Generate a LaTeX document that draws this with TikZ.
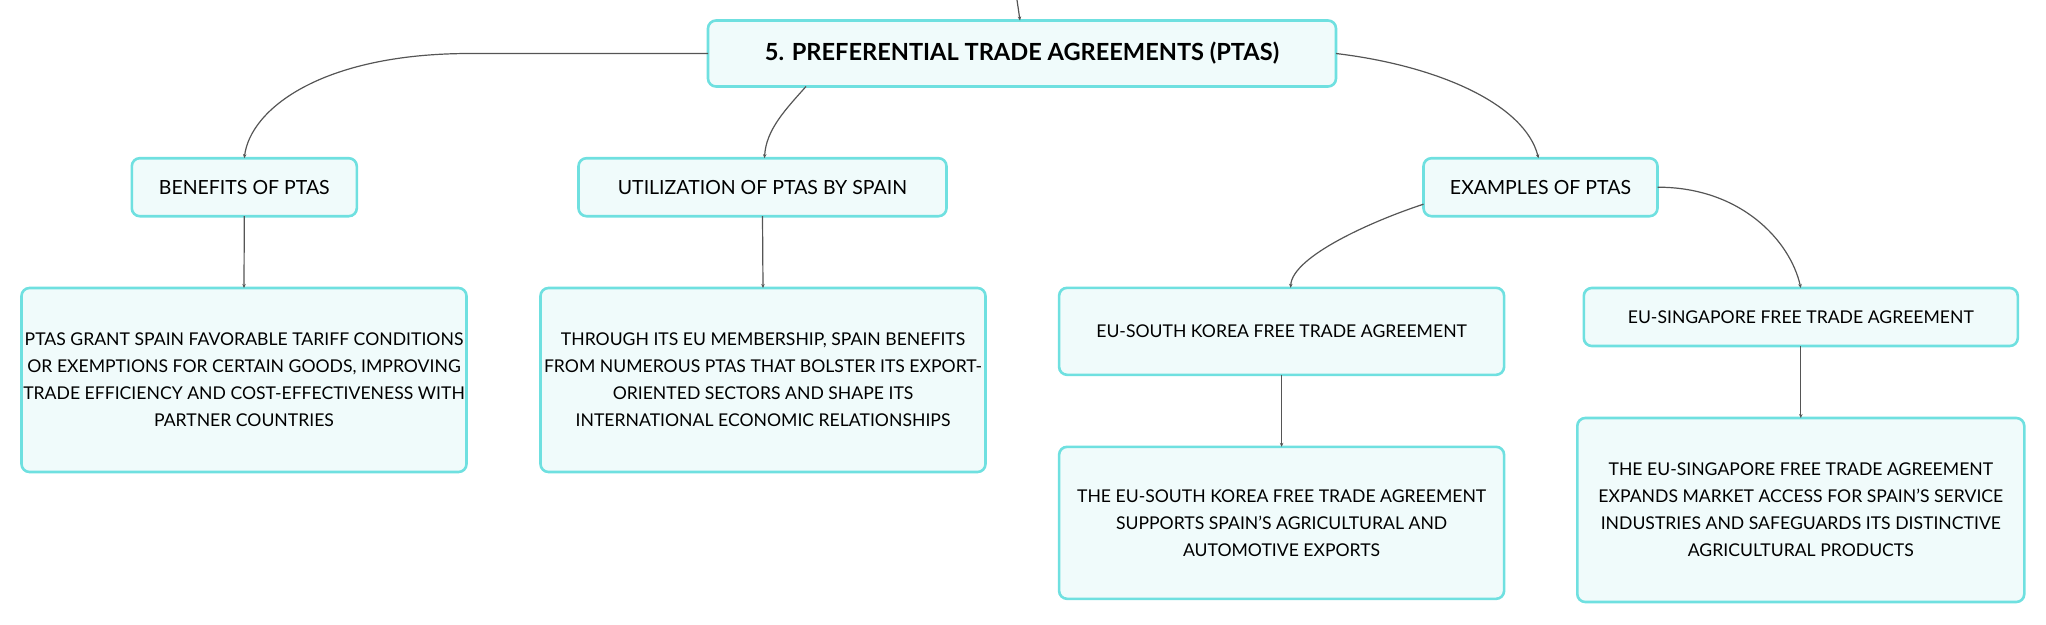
\documentclass[tikz,border=0pt]{standalone}
\usepackage{fontspec}
\setmainfont{Lato}
\usetikzlibrary{arrows.meta,calc}
\definecolor{bordc}{HTML}{6FE0E0}
\definecolor{fillc}{HTML}{F0FBFB}
\definecolor{linec}{HTML}{555555}
\tikzset{
  box/.style={draw=bordc, fill=fillc, line width=2.6pt, rounded corners=8pt,
    align=center, inner sep=0pt, outer sep=0pt, text=black},
  headbox/.style={box, font=\fontsize{19.5}{26}\selectfont},
  textbox/.style={box, font=\fontsize{17.6}{26.9}\selectfont},
  rootbox/.style={box, font=\fontsize{23.6}{28}\selectfont\bfseries},
  conn/.style={draw=linec, line width=1.2pt, -{Stealth[length=4pt,width=3.5pt]}},
}
\begin{document}
\begin{tikzpicture}[x=1pt,y=-1pt]
\useasboundingbox (0,0) rectangle (2046,624);
\node[rootbox, minimum width=628pt, minimum height=66pt] (root) at (1022,53.5) {5. PREFERENTIAL TRADE AGREEMENTS (PTAS)};
\node[headbox, minimum width=225pt, minimum height=58pt] (ben) at (244.3,187.2) {BENEFITS OF PTAS};
\node[headbox, minimum width=368pt, minimum height=58pt] (util) at (762.5,187.2) {UTILIZATION OF PTAS BY SPAIN};
\node[headbox, minimum width=234pt, minimum height=58pt] (ex) at (1540.5,187.2) {EXAMPLES OF PTAS};
\node[textbox, minimum width=445pt, minimum height=184pt] (b1) at (244,380) {PTAS GRANT SPAIN FAVORABLE TARIFF CONDITIONS\\OR EXEMPTIONS FOR CERTAIN GOODS, IMPROVING\\TRADE EFFICIENCY AND COST-EFFECTIVENESS WITH\\PARTNER COUNTRIES};
\node[textbox, minimum width=445pt, minimum height=184pt] (b2) at (763,380) {THROUGH ITS EU MEMBERSHIP, SPAIN BENEFITS\\FROM NUMEROUS PTAS THAT BOLSTER ITS EXPORT-\\ORIENTED SECTORS AND SHAPE ITS\\INTERNATIONAL ECONOMIC RELATIONSHIPS};
\node[textbox, minimum width=445pt, minimum height=87pt] (sk) at (1281.6,331.3) {EU-SOUTH KOREA FREE TRADE AGREEMENT};
\node[textbox, minimum width=434pt, minimum height=58pt] (sg) at (1800.8,317) {EU-SINGAPORE FREE TRADE AGREEMENT};
\node[textbox, minimum width=445pt, minimum height=152pt] (skd) at (1281.6,522.8) {THE EU-SOUTH KOREA FREE TRADE AGREEMENT\\SUPPORTS SPAIN'S AGRICULTURAL AND\\AUTOMOTIVE EXPORTS};
\node[textbox, minimum width=447pt, minimum height=184pt] (sgd) at (1800.8,510) {THE EU-SINGAPORE FREE TRADE AGREEMENT\\EXPANDS MARKET ACCESS FOR SPAIN'S SERVICE\\INDUSTRIES AND SAFEGUARDS ITS DISTINCTIVE\\AGRICULTURAL PRODUCTS};
\coordinate (top) at (1017,0);
% connectors
\draw[conn] (top) -- ([xshift=-2pt]root.north);
\draw[conn] (root.west) -- (470,53.5) .. controls (320,53.5) and (250,110) .. (ben.north);
\draw[conn] ([xshift=-216pt]root.south) .. controls (785,110) and (766,130) .. ([xshift=2pt]util.north);
\draw[conn] (root.east) .. controls (1440,66) and (1525,105) .. ([xshift=-2pt]ex.north);
\draw[conn] ([yshift=-17pt]ex.west) .. controls (1375,220) and (1292,256) .. ([xshift=9pt]sk.north);
\draw[conn] (ex.east) .. controls (1740,187) and (1790,240) .. (sg.north);
\draw[conn] (ben.south) -- (b1.north);
\draw[conn] (util.south) -- (b2.north);
\draw[conn] (sk.south) -- (skd.north);
\draw[conn] (sg.south) -- (sgd.north);
\end{tikzpicture}
\end{document}
